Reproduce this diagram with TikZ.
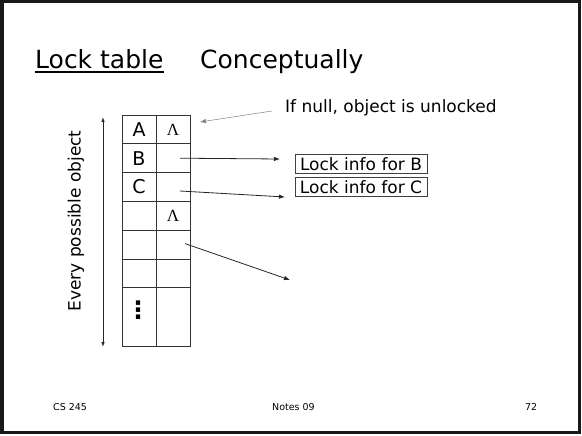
\documentclass[tikz,border=0pt]{standalone}
\usepackage{fontspec}
\setmainfont{DejaVu Sans}
\newfontfamily\symfont{Liberation Serif}
\usetikzlibrary{arrows.meta, positioning, calc}
\newcommand{\nullptr}{\raisebox{-2pt}{\symfont\fontsize{17}{19}\selectfont Λ}}

\begin{document}
\begin{tikzpicture}[x=1pt, y=-1pt, >={Latex[length=6pt,width=4.5pt]},
    cell/.style={draw=black!80, line width=0.9pt, minimum width=34pt,
      minimum height=28.8pt, inner sep=0pt, outer sep=0pt,
      font=\fontsize{19}{22}\selectfont},
    body/.style={font=\fontsize{17}{20}\selectfont, inner sep=0pt},
    infobox/.style={body, draw=black!75, line width=0.8pt,
      minimum width=132pt, minimum height=18.5pt},
    foot/.style={font=\fontsize{9.5}{11}\selectfont, inner sep=0pt},
    ptr/.style={->, line width=0.8pt, black!85}]
  \useasboundingbox (0,0) rectangle (582,436);
  \draw[line width=3pt, black!90] (2,1.5) rectangle (579,432);

  % title
  \node[font=\fontsize{25}{30}\selectfont, inner sep=0pt, anchor=base west]
    (locktab) at (35,69) {Lock table};
  \draw[line width=1.6pt] ([yshift=-3pt]locktab.base west)
    -- ([yshift=-3pt]locktab.base east);
  \node[font=\fontsize{25}{30}\selectfont, inner sep=0pt, anchor=base west]
    (concept) at (200,69) {Conceptually};

  % the table
  \foreach \k/\t/\p in {1/A/\nullptr, 2/B/, 3/C/, 4//\nullptr, 5//, 6//} {
    \node[cell] (key\k) at (139, {115+28.8*(\k-0.5)}) {\t};
    \node[cell] (ptr\k) at (173, {115+28.8*(\k-0.5)}) {\p};
  }
  \node[cell, minimum height=58.8pt] (key7) at (139,317.2) {};
  \node[cell, minimum height=58.8pt] (ptr7) at (173,317.2) {};
  \node[font=\fontsize{24}{28}\selectfont\bfseries, inner sep=0pt]
    (dots) at (138,310) {⋮};

  % every possible object
  \coordinate (objtop) at (103,117);
  \coordinate (objbot) at (103,347);
  \draw[{Latex[length=5pt,width=3.5pt]}-{Latex[length=5pt,width=3.5pt]},
    line width=0.8pt, black!85] (objtop) -- (objbot);
  \node[body, rotate=90, anchor=base] (every) at (80.5,221)
    {Every possible object};

  % lock info
  \node[body, anchor=base west] (note) at (285,113)
    {If null, object is unlocked};
  \node[infobox] (infoB) at (361,164) {Lock info for B};
  \node[infobox] (infoC) at (361,187) {Lock info for C};

  \coordinate (noteend) at (272,111);
  \coordinate (nilA) at (200,122);
  \draw[->, line width=0.5pt, gray] (noteend) -- (nilA);

  \coordinate (tipB) at (280,159);
  \coordinate (tipC) at (285,197);
  \coordinate (tipE) at (290,280);
  \draw[ptr] ([xshift=7pt]ptr2.center) -- (tipB);
  \draw[ptr] ([xshift=7pt,yshift=-4pt]ptr3.center) -- (tipC);
  \draw[ptr] ([xshift=12pt,yshift=1pt]ptr5.center) -- (tipE);

  % footer
  \node[foot, anchor=west] (course) at (53,407) {CS 245};
  \node[foot, anchor=west] (notes) at (272,407) {Notes 09};
  \node[foot, anchor=west] (page) at (525,407) {72};
\end{tikzpicture}
\end{document}
